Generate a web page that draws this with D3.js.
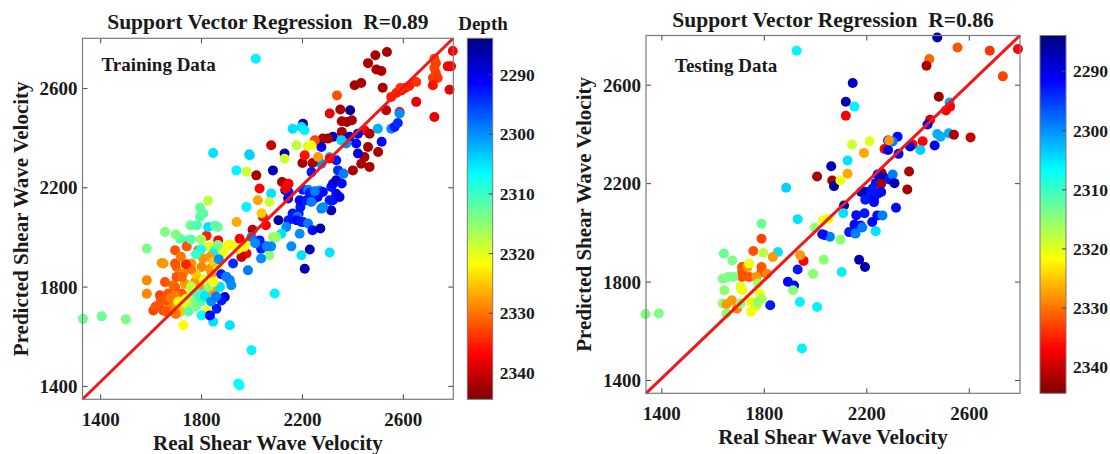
<!DOCTYPE html>
<html><head><meta charset="utf-8">
<script src="https://cdn.jsdelivr.net/npm/d3@7"></script>
<style>
body{margin:0;background:#fff}
svg{display:block}
text{font-family:"Liberation Serif","Times New Roman",serif;font-weight:bold;fill:#1a1a1a;white-space:pre}
</style>
</head><body>
<svg id="chart" width="1110" height="454"></svg>
<script>
// ---------- data ----------
const xTicks = [1400, 1800, 2200, 2600];
const yTicks = [1400, 1800, 2200, 2600];
const depthTicks = [2290, 2300, 2310, 2320, 2330, 2340];
const depthDomain = [2284, 2344.5];
const xLimits = [[1330, 2800], [1340, 2800]];
const yLimits = [[1346, 2800], [1346, 2800]];
const panelTitles = ["Support Vector Regression  R=0.89", "Support Vector Regression  R=0.86"];
const panelLabels = ["Training Data", "Testing Data"];
const xLabel = "Real Shear Wave Velocity";
const yLabel = "Predicted Shear Wave Velocity";
const colorbarTitle = "Depth";

// [real, predicted, depth]
const trainingPoints = [
[2017,2718,2306],[2537,2745,2342],[2491,2732,2342],[2462,2700,2342],[2495,2674,2342],[2515,2668,2342],
[2798,2749,2337],[2791,2687,2337],[2778,2687,2337],[2785,2593,2338],
[2725,2718,2333],[2731,2700,2333],[2725,2680,2333],[2731,2660,2333],[2719,2640,2333],[2738,2640,2334],
[2719,2611,2336],[2725,2483,2338],[2653,2624,2334],[2653,2544,2338],
[2554,2564,2335],[2574,2580,2335],[2594,2590,2336],[2609,2600,2336],[2625,2608,2335],[2590,2600,2334],
[2587,2503,2337],[2534,2510,2341],[2409,2611,2342],[2435,2620,2342],[2520,2601,2342],
[2339,2570,2332],[2352,2513,2342],[2391,2510,2286],[2310,2497,2338],
[2358,2466,2342],[2378,2463,2342],[2398,2470,2342],[2358,2423,2342],[2448,2430,2337],[2468,2416,2342],
[2501,2436,2302],[2554,2436,2300],[2567,2443,2293],[2580,2459,2294],[2587,2497,2300],[2516,2383,2292],
[2502,2342,2342],[2462,2362,2342],[2448,2322,2342],[2468,2282,2342],[2435,2295,2342],[2402,2268,2342],
[2422,2416,2290],[2388,2403,2288],[2415,2376,2292],[2422,2336,2290],[2375,2376,2300],
[2323,2403,2287],[2283,2396,2342],[2303,2396,2342],[2277,2362,2290],[2251,2389,2333],
[2204,2456,2287],[2198,2443,2305],[2163,2436,2305],[2210,2430,2306],
[2078,2369,2340],[2178,2369,2318],[2224,2365,2320],[2237,2369,2321],
[2131,2336,2287],[2131,2315,2319],[2085,2268,2287],[2019,2248,2342],
[1940,2268,2306],[1980,2262,2319],[1993,2329,2304],[1848,2338,2305],[1991,2333,2304],
[2032,2195,2337],[2078,2175,2305],[2071,2141,2319],[2025,2148,2327],[1980,2121,2306],[2045,2081,2336],
[2121,2221,2342],[2134,2214,2342],[2147,2214,2337],[2134,2188,2290],[2147,2181,2293],[2135,2195,2337],
[2107,2067,2286],[2147,2067,2293],[2167,2074,2293],[2187,2094,2292],[2194,2121,2293],[2145,2155,2290],
[2242,2148,2293],[2262,2161,2292],[2270,2187,2300],[2283,2181,2292],[2316,2201,2293],[2323,2214,2292],
[2336,2174,2292],[2323,2148,2293],[2349,2161,2290],[2336,2228,2288],
[2277,2295,2300],[2310,2322,2304],[2356,2389,2304],[2336,2309,2293],[2343,2268,2294],[2365,2255,2299],
[2358,2215,2292],[2316,2107,2287],[2310,2148,2293],[2277,2114,2299],[2284,2120,2300],
[2204,2190,2293],[2224,2190,2299],[2231,2177,2293],[2251,2184,2299],
[2191,2148,2292],[2218,2148,2293],[2237,2141,2299],[2163,2094,2293],[2183,2081,2299],[2204,2060,2293],
[2178,2067,2292],[2198,2060,2293],[2224,2054,2299],[2242,2027,2292],[2273,2034,2287],
[2202,2298,2342],[2242,2298,2342],[2211,2329,2336],[2238,2261,2293],[2264,2322,2328],[2310,2316,2337],
[2191,2013,2300],[2158,1962,2300],[2198,1926,2305],[2231,1949,2287],[2211,1872,2287],[2310,1937,2305],
[2138,2040,2300],[2118,2013,2305],[2098,2000,2315],[2085,2000,2316],[2071,1926,2315],[2038,1913,2300],
[2078,1962,2300],[2051,1962,2293],[2032,1986,2293],[2038,1953,2293],[2060,1962,2299],
[1993,1986,2320],[1953,1993,2337],[1980,1933,2337],[1960,1919,2340],
[1941,2060,2327],[2040,2095,2325],[2057,2047,2337],[2004,2029,2341],
[2000,2000,2299],[2015,1975,2300],[1970,1960,2321],[1945,1950,2322],
[1986,1866,2299],[1927,1893,2294],[1914,1826,2299],[1920,1805,2300],[1894,1758,2290],[1861,1711,2293],
[1835,1691,2296],[1848,1658,2305],[1914,1644,2305],[2000,1544,2306],[1947,1409,2307],[1953,1402,2307],[2092,1772,2306],
[1796,2118,2313],[1809,2094,2312],[1828,2146,2318],[1796,2081,2312],[1758,2047,2313],[1784,2047,2311],
[1717,1993,2312],[1750,1987,2310],[1657,2020,2314],[1585,1953,2314],
[1697,1946,2332],[1743,1962,2332],[1789,1946,2331],[1822,2005,2335],[1868,1986,2337],
[1833,1962,2321],[1855,1946,2313],[1888,1939,2321],[1921,1966,2321],[1907,1967,2322],
[1867,1967,2314],[1848,1933,2306],[1867,2040,2313],[1828,2040,2305],[1855,2045,2312],
[1644,1895,2328],[1703,1879,2331],[1736,1890,2321],[1762,1893,2328],[1808,1913,2328],[1802,1879,2329],
[1835,1872,2328],[1729,1852,2329],[1717,1845,2329],[1657,1818,2332],[1697,1798,2332],[1736,1811,2328],
[1776,1818,2328],[1796,1798,2328],[1754,1771,2322],[1585,1825,2329],[1585,1771,2329],
[1637,1765,2333],[1631,1724,2333],[1611,1704,2333],[1650,1704,2333],[1677,1724,2330],[1703,1724,2328],[1690,1698,2329],
[1730,1717,2321],[1756,1731,2318],[1782,1744,2313],[1809,1771,2309],[1848,1778,2328],[1825,1704,2321],
[1875,1798,2305],[1881,1744,2293],[1802,1684,2307],[1835,1684,2292],[1730,1644,2322],
[1332,1670,2313],[1406,1680,2313],[1502,1668,2314],
[1842,1852,2328],[1835,1919,2328],[1867,1879,2321],[1651,1893,2328],[1697,1893,2332],[1703,1839,2332],
[1723,1839,2331],[1723,1772,2332],[1690,1805,2331],[1670,1772,2332],
[1620,1720,2332],[1640,1740,2332],[1660,1745,2332],[1680,1755,2330],[1700,1760,2330],[1710,1740,2322],
[1740,1750,2320],[1760,1760,2316],[1775,1780,2312],[1790,1760,2310],[1760,1800,2318],[1720,1700,2325],
[1700,1690,2330],[1660,1700,2332],[1750,1700,2312],[1780,1720,2314],[1800,1740,2312],[1815,1760,2305],
[1840,1740,2300],[1860,1760,2299],[1830,1800,2316],[1850,1820,2322],[1810,1830,2320],[1780,1850,2325],
[1760,1870,2330],[1740,1890,2335],[1720,1920,2330],[1780,1930,2310],[1800,1950,2308],[1760,1990,2312],
[1700,2010,2314],[1800,1990,2316],[1850,1900,2325],[1870,1910,2300],[1880,1850,2293],[1900,1840,2299]
];

const testingPoints = [
[2477,2792,2286],[1928,2738,2306],[2556,2751,2332],[2682,2738,2334],[2792,2745,2337],[2733,2634,2333],
[2446,2704,2331],[2435,2677,2342],[2147,2607,2288],[2120,2531,2287],[2154,2511,2306],[2120,2474,2337],
[2483,2551,2343],[2525,2528,2302],[2527,2511,2337],[2511,2495,2337],[2449,2458,2339],[2439,2438,2290],
[2477,2400,2302],[2490,2389,2302],[2522,2403,2302],[2542,2397,2342],[2607,2386,2340],[2420,2370,2337],
[2381,2357,2337],[2371,2349,2290],[2467,2353,2290],[2411,2335,2304],
[2322,2389,2292],[2285,2373,2292],[2303,2369,2299],[2271,2339,2337],[2285,2335,2290],[2326,2319,2292],
[2289,2373,2328],[2213,2370,2320],[2144,2357,2319],[2191,2323,2327],[2127,2292,2305],[2127,2238,2327],
[2063,2269,2287],[2067,2211,2342],[2074,2188,2286],[2008,2227,2342],[2099,2211,2321],
[1887,2181,2304],[1932,2053,2305],[2113,2109,2287],[2110,2078,2305],
[2260,2241,2342],[2367,2247,2342],[2360,2174,2342],
[2237,2200,2292],[2244,2235,2290],[2271,2221,2287],[2289,2215,2293],[2303,2235,2299],[2310,2200,2287],
[2258,2198,2342],[2196,2165,2292],[2209,2150,2293],[2230,2137,2292],[2244,2157,2293],[2258,2164,2292],
[2224,2177,2293],[2180,2164,2287],[2196,2133,2293],[2230,2123,2292],[2316,2100,2292],[2243,2069,2292],[2263,2069,2299],
[2161,2070,2292],[2193,2078,2293],[2223,2042,2292],[2178,2028,2293],[2154,2032,2292],[2184,2020,2299],
[2133,2001,2293],[2158,1995,2299],[2237,2005,2305],
[2038,1988,2293],[2058,1982,2299],[2028,1992,2292],
[2099,1970,2315],[2034,1889,2315],[2000,2019,2315],[2031,2049,2321],[2052,2055,2322],
[2172,1889,2287],[2195,1859,2287],[2104,1839,2306],[1992,1832,2315],[1955,1884,2337],[1942,1907,2328],
[1932,1849,2293],[1894,1799,2292],[1918,1784,2292],[1914,1765,2315],[1941,1717,2306],[2008,1697,2306],
[1949,1528,2306],[1825,1704,2293],[1855,1920,2305],
[1791,2035,2313],[1791,1974,2333],[1759,1924,2332],[1798,1917,2318],[1835,1900,2328],
[1644,1914,2313],[1677,1886,2314],
[1715,1859,2332],[1715,1839,2332],[1715,1819,2332],[1736,1859,2328],[1743,1819,2332],[1791,1859,2332],
[1791,1839,2332],[1771,1819,2328],[1812,1832,2329],
[1640,1812,2314],[1661,1819,2314],[1681,1819,2314],[1646,1765,2315],[1709,1778,2320],[1716,1765,2321],
[1777,1792,2316],[1784,1751,2321],[1791,1731,2321],[1743,1873,2321],
[1640,1711,2315],[1654,1708,2328],[1675,1724,2328],[1695,1690,2329],[1709,1711,2315],[1750,1717,2321],
[1750,1677,2321],[1770,1700,2320],[1777,1717,2315],[1654,1670,2315],[1791,1728,2316],
[1338,1668,2314],[1390,1670,2314]
];

// ---------- drawing ----------
const svg = d3.select("#chart");
const FONT = '"Liberation Serif","Times New Roman",serif';
const clamp01 = v => Math.max(0, Math.min(1, v));
const jet = t => {
  t = clamp01(t);
  const c = v => Math.round(255 * clamp01(v));
  return `rgb(${c(1.5 - Math.abs(4*t - 3))},${c(1.5 - Math.abs(4*t - 2))},${c(1.5 - Math.abs(4*t - 1))})`;
};
const depthNorm = d3.scaleLinear().domain(depthDomain).range([0, 1]);
const colorOf = d => jet(depthNorm(d));

const layouts = [
  {box:{x0:82.5, x1:453.3, y0:38.3, y1:399.3}, labelPos:[101.5, 70.5], cb:[467.3, 492.7], cbTitle:true},
  {box:{x0:646, x1:1020, y0:35.5, y1:393.3}, labelPos:[675, 71.5], cb:[1040, 1066], cbTitle:false}
];
const seriesList = [trainingPoints, testingPoints];

const defs = svg.append("defs");
const grad = defs.append("linearGradient").attr("id", "jetgrad")
  .attr("x1", 0).attr("y1", 0).attr("x2", 0).attr("y2", 1);
d3.range(0, 1.0001, 0.025).forEach(t => grad.append("stop").attr("offset", t).attr("stop-color", jet(t)));

const AXIS = "#7a7a7a";
const styleAxisText = sel => sel.attr("fill", "#1a1a1a").style("font-family", FONT).style("font-weight", "bold");

layouts.forEach((L, i) => {
  const b = L.box;
  const x = d3.scaleLinear().domain(xLimits[i]).range([b.x0, b.x1]);
  const y = d3.scaleLinear().domain(yLimits[i]).range([b.y1, b.y0]);
  const g = svg.append("g");

  g.append("g").selectAll("circle").data(seriesList[i]).join("circle")
    .attr("cx", d => x(d[0])).attr("cy", d => y(d[1])).attr("r", 5)
    .attr("fill", d => colorOf(d[2]));

  const lineData = [[xLimits[i][0], yLimits[i][0]], [xLimits[i][1], yLimits[i][1]]];
  g.append("path").datum(lineData)
    .attr("d", d3.line().x(d => x(d[0])).y(d => y(d[1])))
    .attr("stroke", "#f01818").attr("stroke-width", 3).attr("fill", "none");

  const axB = g.append("g").attr("transform", `translate(0,${b.y1})`)
    .call(d3.axisBottom(x).tickValues(xTicks).tickSizeInner(-5).tickSizeOuter(0).tickFormat(d3.format("d")));
  axB.selectAll("text").attr("y", 27).attr("dy", 0).style("font-size", "19px");
  const axT = g.append("g").attr("transform", `translate(0,${b.y0})`)
    .call(d3.axisTop(x).tickValues(xTicks).tickSizeInner(-5).tickSizeOuter(0).tickFormat(""));
  const axL = g.append("g").attr("transform", `translate(${b.x0},0)`)
    .call(d3.axisLeft(y).tickValues(yTicks).tickSizeInner(-5).tickSizeOuter(0).tickPadding(5).tickFormat(d3.format("d")));
  axL.selectAll("text").attr("dy", "0.34em").style("font-size", "19px");
  const axR = g.append("g").attr("transform", `translate(${b.x1},0)`)
    .call(d3.axisRight(y).tickValues(yTicks).tickSizeInner(-5).tickSizeOuter(0).tickFormat(""));
  [axB, axT, axL, axR].forEach(a => {
    a.attr("font-family", null).attr("font-size", null);
    a.select(".domain").remove();
    a.selectAll("line").attr("stroke", "#444");
    styleAxisText(a.selectAll("text"));
  });
  g.append("rect").attr("x", b.x0).attr("y", b.y0).attr("width", b.x1 - b.x0).attr("height", b.y1 - b.y0)
    .attr("fill", "none").attr("stroke", AXIS).attr("stroke-width", 1.2);

  const cx = (b.x0 + b.x1) / 2, cy = (b.y0 + b.y1) / 2;
  g.append("text").attr("x", cx).attr("y", b.y0 - 9).attr("text-anchor", "middle")
    .style("font-size", "21.5px").text(panelTitles[i]);
  g.append("text").attr("x", L.labelPos[0]).attr("y", L.labelPos[1])
    .style("font-size", "19px").text(panelLabels[i]);
  g.append("text").attr("x", cx).attr("y", b.y1 + 50.5).attr("text-anchor", "middle")
    .style("font-size", "21px").text(xLabel);
  g.append("text").attr("transform", `translate(${b.x0 - 55},${cy}) rotate(-90)`).attr("text-anchor", "middle")
    .style("font-size", "21px").text(yLabel);

  const cbY = d3.scaleLinear().domain(depthDomain).range([b.y0, b.y1]);
  g.append("rect").attr("x", L.cb[0]).attr("y", b.y0).attr("width", L.cb[1] - L.cb[0]).attr("height", b.y1 - b.y0)
    .attr("fill", "url(#jetgrad)").attr("stroke", AXIS).attr("stroke-width", 1);
  const axC = g.append("g").attr("transform", `translate(${L.cb[1]},0)`)
    .call(d3.axisRight(cbY).tickValues(depthTicks).tickSizeInner(-4).tickSizeOuter(0).tickPadding(7).tickFormat(d3.format("d")));
  axC.attr("font-family", null).attr("font-size", null);
  axC.select(".domain").remove();
  axC.selectAll("line").attr("stroke", "#444");
  styleAxisText(axC.selectAll("text").attr("dy", "0.34em").style("font-size", "17.5px"));
  if (L.cbTitle) {
    g.append("text").attr("x", (L.cb[0] + L.cb[1]) / 2 + 3).attr("y", 30).attr("text-anchor", "middle")
      .style("font-size", "19px").text(colorbarTitle);
  }
});
</script>
</body></html>
